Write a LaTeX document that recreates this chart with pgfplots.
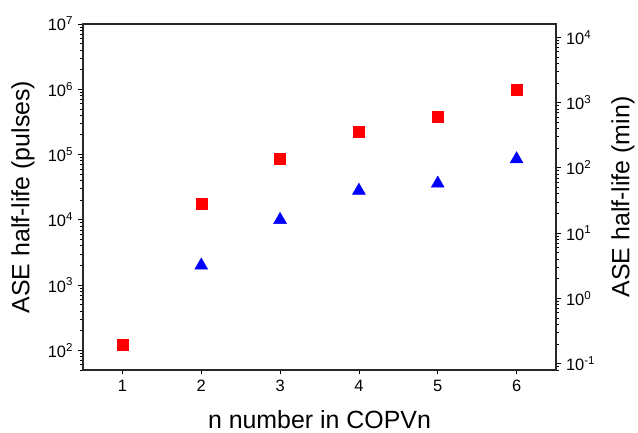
\documentclass[border=0pt]{standalone}
\usepackage{fontspec}
\setmainfont{Liberation Sans}
\usepackage{pgfplots}
\pgfplotsset{compat=1.18}
\definecolor{axgray}{RGB}{40,40,40}
\begin{document}
\begin{tikzpicture}
\useasboundingbox (-83bp,-63bp) rectangle (555bp,370bp);
\begin{axis}[
  scale only axis, width=473bp, height=346bp,
  xmin=0.5, xmax=6.5,
  ymode=log, log basis y=10,
  ymin=50, ymax=1e7,
  tick align=outside,
  major tick length=4.5bp, minor tick length=2.5bp,
  axis line style={axgray, line width=1.2bp},
  tick style={black, line width=0.8bp},
  ticklabel style={font=\fontsize{16.5}{18}\selectfont},
  label style={font=\fontsize{25}{27}\selectfont},
  yticklabel={10\textsuperscript{\pgfmathparse{int(round(\tick))}\pgfmathresult}},
  yticklabel style={xshift=-2bp},
  xticklabel style={yshift=-2bp},
  xtick={1,2,3,4,5,6},
  xticklabels={1,2,3,4,5,6},
  xtick pos=bottom, ytick pos=left,
  xlabel={n number in COPVn},
  ylabel={ASE half-life (pulses)},
  xlabel style={at={(axis description cs:0.5,0)}, yshift=-58.5bp, anchor=base, inner sep=0pt},
  ylabel style={at={(axis description cs:0,0.5)}, rotate=0, yshift=60bp, anchor=center},
]
\addplot[only marks, mark=square*, mark size=5.5bp, mark options={draw=red, fill=red}]
coordinates {(1,120) (2,17500) (3,85000) (4,220000) (5,375000) (6,1000000)};
\addplot[only marks, mark=triangle*, mark size=7.5bp, mark options={draw=blue, fill=blue}]
coordinates {(2,2000) (3,10000) (4,28000) (5,36000) (6,85000)};
\end{axis}
\begin{axis}[
  scale only axis, width=473bp, height=346bp,
  xmin=0.5, xmax=6.5,
  ymode=log, log basis y=10,
  ymin=0.08, ymax=16000,
  tick align=outside,
  major tick length=4.5bp, minor tick length=2.5bp,
  axis line style={axgray, line width=1.2bp},
  tick style={black, line width=0.8bp},
  ticklabel style={font=\fontsize{16.5}{18}\selectfont},
  label style={font=\fontsize{25}{27}\selectfont},
  yticklabel={10\textsuperscript{\pgfmathparse{int(round(\tick))}\pgfmathresult}},
  yticklabel style={xshift=2bp},
  hide x axis,
  axis y line*=right,
  ylabel={ASE half-life (min)},
  ylabel style={at={(axis description cs:1,0.5)}, rotate=0, yshift=-67bp, anchor=center},
]
\end{axis}
\end{tikzpicture}
\end{document}
